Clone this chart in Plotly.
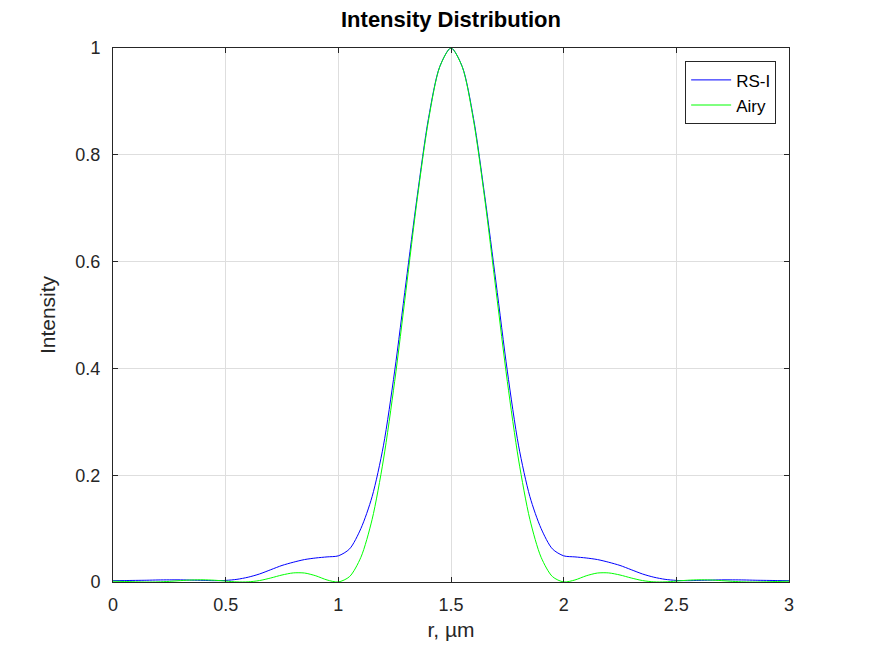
import plotly.graph_objects as go

# radial positions, um
r = [round(0.05 * i, 2) for i in range(61)]

# RS-I intensity
rs_i = [
    0.0025, 0.0027, 0.0030, 0.0033, 0.0038, 0.0040, 0.0040, 0.0035, 0.0030, 0.0025,
    0.0030, 0.0050, 0.0090, 0.0150, 0.0230, 0.0310, 0.0370, 0.0420, 0.0450, 0.0470,
    0.0490, 0.0620, 0.1000, 0.1600, 0.2550, 0.3950, 0.5600, 0.7220, 0.8680, 0.9650,
    1.0000,
    0.9650, 0.8680, 0.7220, 0.5600, 0.3950, 0.2550, 0.1600, 0.1000, 0.0620, 0.0490,
    0.0470, 0.0450, 0.0420, 0.0370, 0.0310, 0.0230, 0.0150, 0.0090, 0.0050, 0.0030,
    0.0025, 0.0030, 0.0035, 0.0040, 0.0040, 0.0038, 0.0033, 0.0030, 0.0027, 0.0025,
]

# Airy intensity
airy = [
    0.0015, 0.0010, 0.0004, 0.0000, 0.0002, 0.0012, 0.0026, 0.0038, 0.0041, 0.0033,
    0.0017, 0.0002, 0.0003, 0.0027, 0.0075, 0.0131, 0.0170, 0.0168, 0.0116, 0.0038,
    0.0001, 0.0102, 0.0462, 0.1173, 0.2285, 0.3755, 0.5452, 0.7167, 0.8644, 0.9646,
    1.0000,
    0.9646, 0.8644, 0.7167, 0.5452, 0.3755, 0.2285, 0.1173, 0.0462, 0.0102, 0.0001,
    0.0038, 0.0116, 0.0168, 0.0170, 0.0131, 0.0075, 0.0027, 0.0003, 0.0002, 0.0017,
    0.0033, 0.0041, 0.0038, 0.0026, 0.0012, 0.0002, 0.0000, 0.0004, 0.0010, 0.0015,
]

x_ticks = [0, 0.5, 1, 1.5, 2, 2.5, 3]
y_ticks = [0, 0.2, 0.4, 0.6, 0.8, 1]

font = "Liberation Sans, Arial, sans-serif"
ink = "#262626"

fig = go.Figure()

fig.add_trace(go.Scatter(x=r, y=rs_i, name="RS-I", mode="lines",
                         line=dict(color="#0000ff", width=1, shape="spline", smoothing=0.8)))
fig.add_trace(go.Scatter(x=r, y=airy, name="Airy", mode="lines",
                         line=dict(color="#00ff00", width=1, shape="spline", smoothing=0.8)))

axis_common = dict(
    showgrid=True, gridcolor="#dedede", gridwidth=1,
    showline=True, linecolor=ink, linewidth=1, mirror="ticks",
    ticks="inside", ticklen=5, tickcolor=ink,
    tickfont=dict(family=font, size=18, color=ink),
    zeroline=False,
)

fig.update_xaxes(range=[0, 3], tickvals=x_ticks, ticklabelstandoff=6,
                 title=dict(text="r, µm", font=dict(family=font, size=21, color=ink), standoff=8),
                 **axis_common)
fig.update_yaxes(range=[0, 1], tickvals=y_ticks, ticklabelstandoff=8,
                 title=dict(text="Intensity", font=dict(family=font, size=21, color=ink), standoff=14),
                 **axis_common)

fig.update_layout(
    width=872, height=654,
    margin=dict(l=105, r=91, t=40, b=80),
    paper_bgcolor="white", plot_bgcolor="white",
    title=dict(text="<b>Intensity Distribution</b>", x=0.5, xref="paper",
               y=1 - 11 / 654, yref="container", yanchor="middle",
               font=dict(family=font, size=22, color="black")),
    legend=dict(x=0.981, y=0.975, xanchor="right", yanchor="top",
                bgcolor="white", bordercolor=ink, borderwidth=1,
                font=dict(family=font, size=17, color="black"),
                tracegroupgap=0, itemwidth=40),
    showlegend=True,
)

fig.write_html("out.html")
